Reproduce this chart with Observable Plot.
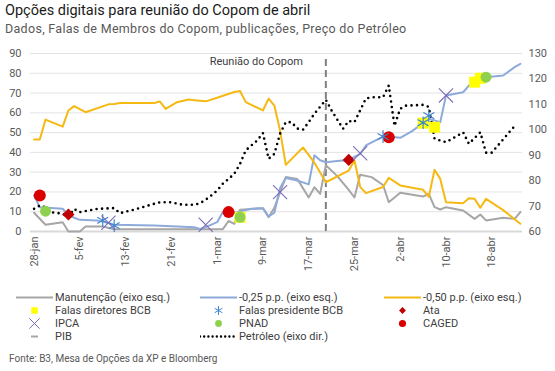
<!DOCTYPE html>
<html><head><meta charset="utf-8">
<script src="https://cdn.jsdelivr.net/npm/d3@7"></script>
<script src="https://cdn.jsdelivr.net/npm/@observablehq/plot@0.6"></script>
<style>
body{margin:0;background:#fff;font-family:Roboto,"Open Sans",sans-serif;}
#wrap{position:relative;width:555px;height:371px;overflow:hidden;background:#fff;}
#title{position:absolute;left:5px;top:2px;font-size:14.5px;color:#1a1a1a;white-space:nowrap;}
#sub{position:absolute;left:5px;top:21px;font-size:12.5px;color:#595959;letter-spacing:0.3px;white-space:nowrap;}
#chart{position:absolute;left:0;top:40px;}
.li{position:absolute;height:13px;display:flex;align-items:center;font-size:11px;color:#404040;white-space:nowrap;}
.li svg{flex:none;margin-right:2px;}
#source{position:absolute;left:9px;top:353px;font-size:10px;color:#595959;white-space:nowrap;}
</style></head>
<body>
<div id="wrap">
  <div id="title">Opções digitais para reunião do Copom de abril</div>
  <div id="sub">Dados, Falas de Membros do Copom, publicações, Preço do Petróleo</div>
  <div id="chart"></div>
  <div id="legend"></div>
  <div id="source">Fonte: B3, Mesa de Opções da XP e Bloomberg</div>
</div>
<script>
// ---------- DATA ----------
const xTickDates = ["2023-01-28","2023-02-05","2023-02-13","2023-02-21","2023-03-01","2023-03-09","2023-03-17","2023-03-25","2023-04-02","2023-04-10","2023-04-18"];
const xTickLabels = ["28-jan","5-fev","13-fev","21-fev","1-mar","9-mar","17-mar","25-mar","2-abr","10-abr","18-abr"];
const leftTicks = [0,10,20,30,40,50,60,70,80,90];
const rightTicks = [60,70,80,90,100,110,120,130];
const xDomain = ["2023-01-27T09:00:00Z","2023-04-23T09:00:00Z"];

const manutDates = ["2023-01-28","2023-01-30","2023-02-02","2023-02-03","2023-02-05","2023-02-06","2023-02-09","2023-02-11","2023-03-02","2023-03-03","2023-03-04","2023-03-05","2023-03-09","2023-03-10","2023-03-11","2023-03-13","2023-03-15","2023-03-17","2023-03-18","2023-03-19","2023-03-20","2023-03-22","2023-03-24","2023-03-25","2023-03-26","2023-03-28","2023-03-30","2023-03-31","2023-04-02","2023-04-06","2023-04-07","2023-04-08","2023-04-09","2023-04-10","2023-04-13","2023-04-15","2023-04-16","2023-04-17","2023-04-20","2023-04-22","2023-04-23"];
const manutValues = [9.5,3.4,4.7,0,0,2.5,2.5,1.1,1.2,5.3,3.9,11,11.8,7.2,12,27.5,26.6,17.2,22.4,19,33.5,28,21,17.2,28.7,27.5,23.5,14.8,19.6,17.7,19,12.3,11.1,12.3,10.6,6.4,8.6,5.6,6.9,6.4,9.8];

const c025Dates = ["2023-01-28","2023-01-29","2023-02-02","2023-02-03","2023-02-05","2023-02-08","2023-02-09","2023-02-11","2023-02-18","2023-02-21","2023-02-25","2023-02-26","2023-02-27","2023-03-01","2023-03-02","2023-03-04","2023-03-07","2023-03-09","2023-03-10","2023-03-11","2023-03-12","2023-03-13","2023-03-15","2023-03-17","2023-03-18","2023-03-19","2023-03-20","2023-03-22","2023-03-24","2023-03-26","2023-03-27","2023-03-30","2023-03-31","2023-04-02","2023-04-04","2023-04-06","2023-04-07","2023-04-09","2023-04-10","2023-04-13","2023-04-14","2023-04-15","2023-04-17","2023-04-20","2023-04-22","2023-04-23"];
const c025Values = [18.2,12.3,11.5,8.1,5.9,5.6,5,3.4,3,2.7,2.2,1.3,2.2,4.7,9.8,9.5,11.5,11.8,7.6,9.5,22,27.1,25.8,23.8,38.6,36,35,35.7,36.2,39.2,43.5,48,48,47.4,50.6,54.8,57,55.3,68.8,70.4,73.8,76.3,78,78.9,83.1,84.8];

const c050Dates = ["2023-01-28","2023-01-29","2023-01-30","2023-02-02","2023-02-03","2023-02-04","2023-02-06","2023-02-10","2023-02-11","2023-02-12","2023-02-18","2023-02-19","2023-02-20","2023-02-22","2023-02-24","2023-02-25","2023-02-27","2023-03-01","2023-03-04","2023-03-05","2023-03-06","2023-03-09","2023-03-10","2023-03-11","2023-03-12","2023-03-13","2023-03-16","2023-03-18","2023-03-20","2023-03-24","2023-03-25","2023-03-26","2023-03-27","2023-03-30","2023-03-31","2023-04-02","2023-04-06","2023-04-07","2023-04-08","2023-04-09","2023-04-10","2023-04-13","2023-04-14","2023-04-15","2023-04-16","2023-04-17","2023-04-20","2023-04-23"];
const c050Values = [46.5,46.5,56.6,53,61.2,63.4,60.3,64.3,64.5,65,65,65.7,62,65.4,66.7,66.4,65.8,67.6,70.5,71,65.4,61.2,67.2,63.7,51,33.7,42.5,34.8,24.9,30.8,35.9,22.6,19.4,22.5,27.1,23.3,21.1,17.5,31.2,26.6,14.8,14.3,16.8,16.5,12,16.5,10.8,3.9];

const oilDates = ["2023-01-28","2023-01-29","2023-01-30","2023-01-31","2023-02-02","2023-02-03","2023-02-04","2023-02-05","2023-02-08","2023-02-11","2023-02-12","2023-02-15","2023-02-16","2023-02-18","2023-02-19","2023-02-21","2023-02-23","2023-02-25","2023-02-26","2023-02-27","2023-02-28","2023-03-01","2023-03-02","2023-03-03","2023-03-04","2023-03-05","2023-03-06","2023-03-08","2023-03-09","2023-03-10","2023-03-11","2023-03-12","2023-03-13","2023-03-14","2023-03-15","2023-03-16","2023-03-17","2023-03-18","2023-03-20","2023-03-21","2023-03-23","2023-03-24","2023-03-25","2023-03-27","2023-03-28","2023-03-30","2023-03-31","2023-04-01","2023-04-02","2023-04-03","2023-04-06","2023-04-07","2023-04-08","2023-04-10","2023-04-13","2023-04-14","2023-04-16","2023-04-17","2023-04-18","2023-04-22"];
const oilValues = [68.9,70.2,69.5,67.6,67,65.8,68.9,67.6,68.9,69.2,67.2,68.9,69.6,70.9,71.5,71.5,70.5,70.5,71.1,72.5,74.2,76.1,78.8,80.7,82.7,86.6,91.9,95.8,98.7,88.6,90.5,98.5,103,103,100.5,100,103,106.3,111.8,107.6,100.4,103.5,103,112.3,112.8,112.8,117.4,101.5,108.3,109.5,109.8,109,96.5,95.1,99,94.5,99,91,91,101.5];

const diretoresDates = ["2023-03-05","2023-04-06","2023-04-08","2023-04-15","2023-04-16"];
const diretoresValues = [7.2,54.8,52.7,75.5,77.5];
const presidenteDates = ["2023-02-09","2023-02-11","2023-03-30","2023-04-06","2023-04-07"];
const presidenteValues = [5.6,3,48,55,58.6];
const ataDates = ["2023-02-03","2023-03-24"];
const ataValues = [8.6,36.2];
const ipcaDates = ["2023-02-10","2023-02-27","2023-03-12","2023-03-26","2023-04-10"];
const ipcaValues = [4.4,3.4,19.9,39.6,68.8];
const pnadDates = ["2023-01-30","2023-03-05","2023-04-17"];
const pnadValues = [10.3,7.2,78];
const cagedDates = ["2023-01-29","2023-03-03","2023-03-31"];
const cagedValues = [18.2,9.8,47.7];

const copomDate = "2023-03-20";
const copomLabel = "Reunião do Copom";
const copomTop = 87.5;

// ---------- BUILD ----------
const D = s => new Date(s.length > 10 ? s : s + "T00:00:00Z");
const rows = (ds, vs) => ds.map((d, i) => ({date: D(d), v: vs[i]}));
const oilToLeft = d3.scaleLinear().domain([60, 130]).range([0, 90]);
const tickLabel = new Map(xTickDates.map((d, i) => [+D(d), xTickLabels[i]]));

const manut = rows(manutDates, manutValues);
const c025 = rows(c025Dates, c025Values);
const c050 = rows(c050Dates, c050Values);
const oil = rows(oilDates, oilValues).map(d => ({date: d.date, v: oilToLeft(d.v)}));

const chart = Plot.plot({
  width: 555, height: 245,
  marginLeft: 30, marginRight: 33, marginTop: 13, marginBottom: 54,
  style: {fontFamily: "Roboto, sans-serif", fontSize: "11px", color: "#595959", background: "#fff"},
  x: {type: "utc", domain: xDomain.map(D)},
  y: {domain: [0, 90]},
  marks: [
    Plot.gridY(leftTicks.slice(1), {stroke: "#e3e3e3", strokeOpacity: 1, strokeWidth: 1}),
    Plot.ruleY([0], {stroke: "#d9d9d9", strokeWidth: 2}),
    Plot.axisY(leftTicks, {anchor: "left", tickSize: 0, tickPadding: 9, label: null}),
    Plot.axisY(rightTicks.map(oilToLeft), {anchor: "right", tickSize: 0, tickPadding: 6, label: null,
      tickFormat: v => String(Math.round(oilToLeft.invert(v)))}),
    Plot.axisX(xTickDates.map(D), {anchor: "bottom", tickRotate: -90, tickSize: 0, tickPadding: 5, label: null,
      tickFormat: d => tickLabel.get(+d)}),
    Plot.ruleX([D(copomDate)], {y1: 0, y2: copomTop, stroke: "#808080", strokeWidth: 2, strokeDasharray: "7,4"}),
    Plot.text([copomLabel], {x: () => D(copomDate), y: () => 90, text: d => d, textAnchor: "end", dx: -23, dy: 8, fill: "#404040", fontSize: 11}),
    Plot.line(manut, {x: "date", y: "v", stroke: "#a6a6a6", strokeWidth: 2}),
    Plot.line(c025, {x: "date", y: "v", stroke: "#8eaadb", strokeWidth: 2}),
    Plot.line(c050, {x: "date", y: "v", stroke: "#f5b914", strokeWidth: 2}),
    Plot.line(oil, {x: "date", y: "v", stroke: "#000", strokeWidth: 2.6, strokeDasharray: "0,5.5", strokeLinecap: "round"}),
    Plot.dot(rows(diretoresDates, diretoresValues), {x: "date", y: "v", symbol: "square", fill: "#ffff00", stroke: "none", r: 6.2}),
    Plot.dot(rows(pnadDates, pnadValues), {x: "date", y: "v", symbol: "circle", fill: "#8fd14f", stroke: "none", r: 5.5}),
    Plot.dot(rows(cagedDates, cagedValues), {x: "date", y: "v", symbol: "circle", fill: "#d90000", stroke: "none", r: 6}),
    Plot.dot(rows(ataDates, ataValues), {x: "date", y: "v", symbol: "diamond2", fill: "#c00000", stroke: "none", r: 5.5}),
    Plot.dot(rows(presidenteDates, presidenteValues), {x: "date", y: "v", symbol: "asterisk", fill: "none", stroke: "#3f86d0", strokeWidth: 1.2, r: 6}),
    Plot.dot(rows(ipcaDates, ipcaValues), {x: "date", y: "v", symbol: "times", fill: "none", stroke: "#7e6bb5", strokeWidth: 1.1, r: 6.5})
  ]
});
document.getElementById("chart").appendChild(chart);

// ---------- LEGEND ----------
const sym = (type, size) => d3.symbol(type, size)();
const lineSvg = (c, dash) => `<svg width="37" height="13"><line x1="0" x2="37" y1="6.5" y2="6.5" stroke="${c}" stroke-width="${dash ? 2.4 : 2}" ${dash ? 'stroke-dasharray="0,4.2" stroke-linecap="round"' : ''}/></svg>`;
const symSvg = (type, size, fill, stroke) => `<svg width="37" height="13"><path transform="translate(18.5,6.5)" d="${sym(type, size)}" fill="${fill}" stroke="${stroke}" stroke-width="1"/></svg>`;
const legendItems = [
  {x: 16, y: 297, svg: lineSvg("#a6a6a6"), t: "Manutenção (eixo esq.)"},
  {x: 200, y: 297, svg: lineSvg("#8eaadb"), t: "-0,25 p.p. (eixo esq.)"},
  {x: 384, y: 297, svg: lineSvg("#f5b914"), t: "-0,50 p.p. (eixo esq.)"},
  {x: 16, y: 310, svg: symSvg(d3.symbolSquare, 42, "#ffff00", "none"), t: "Falas diretores BCB"},
  {x: 200, y: 310, svg: symSvg(d3.symbolAsterisk, 55, "none", "#3f86d0"), t: "Falas presidente BCB"},
  {x: 384, y: 310, svg: symSvg(d3.symbolDiamond2, 30, "#c00000", "none"), t: "Ata"},
  {x: 16, y: 323, svg: symSvg(d3.symbolTimes, 70, "none", "#7e6bb5"), t: "IPCA"},
  {x: 200, y: 323, svg: symSvg(d3.symbolCircle, 36, "#8fd14f", "none"), t: "PNAD"},
  {x: 384, y: 323, svg: symSvg(d3.symbolCircle, 40, "#d90000", "none"), t: "CAGED"},
  {x: 16, y: 336, svg: `<svg width="37" height="13"><line x1="15" x2="22" y1="6.5" y2="6.5" stroke="#a6a6a6" stroke-width="2"/></svg>`, t: "PIB"},
  {x: 200, y: 336, svg: lineSvg("#000", true), t: "Petróleo (eixo dir.)"}
];
document.getElementById("legend").innerHTML = legendItems.map(d =>
  `<div class="li" style="left:${d.x}px;top:${d.y - 6.5}px">${d.svg}<span>${d.t}</span></div>`).join("");
</script>
</body></html>
